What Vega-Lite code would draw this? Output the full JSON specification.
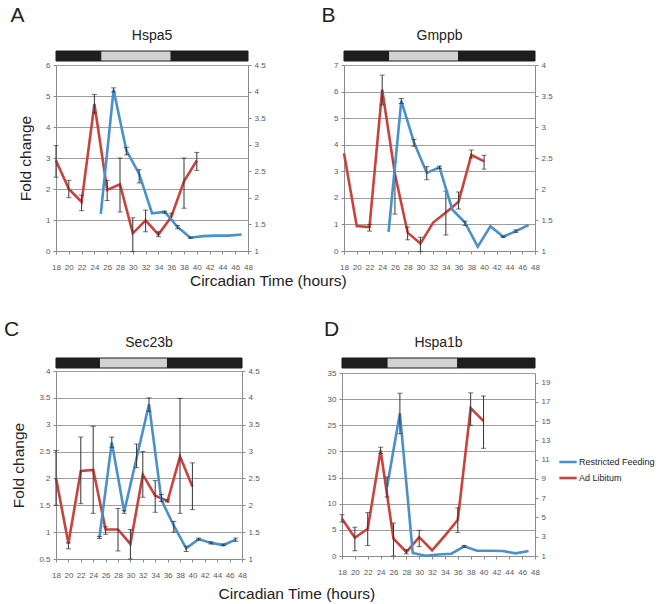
{
"$schema":"https://vega.github.io/schema/vega-lite/v6.json",
"padding":{"left":3,"top":4,"right":0,"bottom":0},
"background":"white",
"datasets":{
"bars":[{"a":18,"b":25,"p":"d"},{"a":25,"b":36,"p":"l"},{"a":36,"b":48,"p":"d"}],
"A":[
{"s":"Ad Libitum","h":18,"v":2.92,"lo":2.38,"hi":3.4},
{"s":"Ad Libitum","h":20,"v":2.0,"lo":1.72,"hi":2.28},
{"s":"Ad Libitum","h":22,"v":1.58,"lo":1.3,"hi":1.8},
{"s":"Ad Libitum","h":24,"v":4.74,"lo":4.45,"hi":5.05},
{"s":"Ad Libitum","h":26,"v":1.97,"lo":1.63,"hi":2.28},
{"s":"Ad Libitum","h":28,"v":2.15,"lo":1.26,"hi":3.0},
{"s":"Ad Libitum","h":30,"v":0.57,"lo":-0.02,"hi":1.07},
{"s":"Ad Libitum","h":32,"v":0.99,"lo":0.62,"hi":1.32},
{"s":"Ad Libitum","h":34,"v":0.53,"lo":0.46,"hi":0.62},
{"s":"Ad Libitum","h":36,"v":1.1,"lo":1.0,"hi":1.22},
{"s":"Ad Libitum","h":38,"v":2.25,"lo":1.38,"hi":3.0},
{"s":"Ad Libitum","h":40,"v":2.92,"lo":2.6,"hi":3.18},
{"s":"Restricted Feeding","h":25,"v":1.7,"lo":null,"hi":null},
{"s":"Restricted Feeding","h":27,"v":4.03,"lo":3.99,"hi":4.07},
{"s":"Restricted Feeding","h":29,"v":2.89,"lo":2.81,"hi":2.95},
{"s":"Restricted Feeding","h":31,"v":2.45,"lo":2.28,"hi":2.53},
{"s":"Restricted Feeding","h":33,"v":1.71,"lo":null,"hi":null},
{"s":"Restricted Feeding","h":35,"v":1.735,"lo":1.71,"hi":1.75},
{"s":"Restricted Feeding","h":37,"v":1.45,"lo":1.42,"hi":1.48},
{"s":"Restricted Feeding","h":39,"v":1.25,"lo":1.24,"hi":1.26},
{"s":"Restricted Feeding","h":41,"v":1.28,"lo":null,"hi":null},
{"s":"Restricted Feeding","h":43,"v":1.29,"lo":null,"hi":null},
{"s":"Restricted Feeding","h":45,"v":1.29,"lo":null,"hi":null},
{"s":"Restricted Feeding","h":47,"v":1.31,"lo":null,"hi":null}],
"B":[
{"s":"Ad Libitum","h":18,"v":3.68,"lo":null,"hi":null},
{"s":"Ad Libitum","h":20,"v":0.94,"lo":null,"hi":null},
{"s":"Ad Libitum","h":22,"v":0.9,"lo":0.75,"hi":1.0},
{"s":"Ad Libitum","h":24,"v":6.07,"lo":5.5,"hi":6.62},
{"s":"Ad Libitum","h":26,"v":2.9,"lo":1.39,"hi":3.35},
{"s":"Ad Libitum","h":28,"v":0.69,"lo":0.42,"hi":0.9},
{"s":"Ad Libitum","h":30,"v":0.28,"lo":-0.02,"hi":0.52},
{"s":"Ad Libitum","h":32,"v":1.07,"lo":null,"hi":null},
{"s":"Ad Libitum","h":34,"v":1.45,"lo":0.6,"hi":2.25},
{"s":"Ad Libitum","h":36,"v":1.85,"lo":1.58,"hi":2.22},
{"s":"Ad Libitum","h":38,"v":3.62,"lo":3.5,"hi":3.8},
{"s":"Ad Libitum","h":40,"v":3.37,"lo":3.08,"hi":3.6},
{"s":"Restricted Feeding","h":25,"v":1.31,"lo":null,"hi":null},
{"s":"Restricted Feeding","h":27,"v":3.42,"lo":3.38,"hi":3.46},
{"s":"Restricted Feeding","h":29,"v":2.75,"lo":2.69,"hi":2.8},
{"s":"Restricted Feeding","h":31,"v":2.26,"lo":2.15,"hi":2.36},
{"s":"Restricted Feeding","h":33,"v":2.35,"lo":2.33,"hi":2.37},
{"s":"Restricted Feeding","h":35,"v":1.67,"lo":null,"hi":null},
{"s":"Restricted Feeding","h":37,"v":1.46,"lo":1.41,"hi":1.48},
{"s":"Restricted Feeding","h":39,"v":1.07,"lo":null,"hi":null},
{"s":"Restricted Feeding","h":41,"v":1.4,"lo":null,"hi":null},
{"s":"Restricted Feeding","h":43,"v":1.23,"lo":1.22,"hi":1.24},
{"s":"Restricted Feeding","h":45,"v":1.32,"lo":1.3,"hi":1.34},
{"s":"Restricted Feeding","h":47,"v":1.42,"lo":null,"hi":null}],
"C":[
{"s":"Ad Libitum","h":18,"v":2.01,"lo":1.5,"hi":2.52},
{"s":"Ad Libitum","h":20,"v":0.79,"lo":0.69,"hi":0.8},
{"s":"Ad Libitum","h":22,"v":2.14,"lo":1.53,"hi":2.77},
{"s":"Ad Libitum","h":24,"v":2.16,"lo":1.35,"hi":2.97},
{"s":"Ad Libitum","h":26,"v":1.05,"lo":0.96,"hi":1.1},
{"s":"Ad Libitum","h":28,"v":1.05,"lo":0.65,"hi":1.44},
{"s":"Ad Libitum","h":30,"v":0.78,"lo":0.5,"hi":1.05},
{"s":"Ad Libitum","h":32,"v":2.07,"lo":1.65,"hi":2.5},
{"s":"Ad Libitum","h":34,"v":1.68,"lo":1.37,"hi":1.96},
{"s":"Ad Libitum","h":36,"v":1.58,"lo":1.56,"hi":1.6},
{"s":"Ad Libitum","h":38,"v":2.41,"lo":1.35,"hi":3.49},
{"s":"Ad Libitum","h":40,"v":1.85,"lo":1.42,"hi":2.29},
{"s":"Restricted Feeding","h":25,"v":1.4,"lo":1.38,"hi":1.42},
{"s":"Restricted Feeding","h":27,"v":3.17,"lo":3.08,"hi":3.27},
{"s":"Restricted Feeding","h":29,"v":1.88,"lo":1.85,"hi":1.9},
{"s":"Restricted Feeding","h":31,"v":2.88,"lo":2.7,"hi":3.14},
{"s":"Restricted Feeding","h":33,"v":3.88,"lo":3.75,"hi":4.0},
{"s":"Restricted Feeding","h":35,"v":2.1,"lo":2.07,"hi":2.2},
{"s":"Restricted Feeding","h":37,"v":1.62,"lo":1.5,"hi":1.7},
{"s":"Restricted Feeding","h":39,"v":1.2,"lo":1.14,"hi":1.24},
{"s":"Restricted Feeding","h":41,"v":1.37,"lo":1.35,"hi":1.39},
{"s":"Restricted Feeding","h":43,"v":1.3,"lo":1.28,"hi":1.32},
{"s":"Restricted Feeding","h":45,"v":1.26,"lo":1.25,"hi":1.28},
{"s":"Restricted Feeding","h":47,"v":1.36,"lo":1.33,"hi":1.39}],
"D":[
{"s":"Ad Libitum","h":18,"v":7.13,"lo":6.5,"hi":7.9},
{"s":"Ad Libitum","h":20,"v":3.5,"lo":1.0,"hi":5.5},
{"s":"Ad Libitum","h":22,"v":5.2,"lo":2.0,"hi":8.3},
{"s":"Ad Libitum","h":24,"v":20.2,"lo":19.6,"hi":20.8},
{"s":"Ad Libitum","h":26,"v":3.3,"lo":0.0,"hi":6.3},
{"s":"Ad Libitum","h":28,"v":0.76,"lo":0.4,"hi":1.2},
{"s":"Ad Libitum","h":30,"v":3.6,"lo":1.8,"hi":4.9},
{"s":"Ad Libitum","h":32,"v":1.1,"lo":null,"hi":null},
{"s":"Ad Libitum","h":34,"v":3.9,"lo":null,"hi":null},
{"s":"Ad Libitum","h":36,"v":6.94,"lo":4.5,"hi":9.2},
{"s":"Ad Libitum","h":38,"v":28.3,"lo":25.0,"hi":31.2},
{"s":"Ad Libitum","h":40,"v":25.8,"lo":20.6,"hi":30.6},
{"s":"Restricted Feeding","h":25,"v":8.17,"lo":7.13,"hi":9.2},
{"s":"Restricted Feeding","h":27,"v":15.82,"lo":13.7,"hi":17.9},
{"s":"Restricted Feeding","h":29,"v":1.31,"lo":null,"hi":null},
{"s":"Restricted Feeding","h":31,"v":1.03,"lo":null,"hi":null},
{"s":"Restricted Feeding","h":33,"v":1.16,"lo":null,"hi":null},
{"s":"Restricted Feeding","h":35,"v":1.24,"lo":null,"hi":null},
{"s":"Restricted Feeding","h":37,"v":2.0,"lo":1.9,"hi":2.1},
{"s":"Restricted Feeding","h":39,"v":1.54,"lo":null,"hi":null},
{"s":"Restricted Feeding","h":41,"v":1.54,"lo":null,"hi":null},
{"s":"Restricted Feeding","h":43,"v":1.52,"lo":null,"hi":null},
{"s":"Restricted Feeding","h":45,"v":1.27,"lo":null,"hi":null},
{"s":"Restricted Feeding","h":47,"v":1.52,"lo":null,"hi":null}]
},
"vconcat":[
{"hconcat":[
 {"title":{"text":"A","anchor":"start","fontSize":21,"offset":3,"dx":-8},
  "bounds":"flush","spacing":4,
  "vconcat":[
   {"title":{"text":"Hspa5","fontSize":14,"offset":8},"width":192,"height":10,"data":{"name":"bars"},
    "mark":{"type":"rect","stroke":"#1a1a1a","strokeWidth":1},
    "encoding":{"x":{"field":"a","type":"quantitative","scale":{"domain":[18,48],"nice":false,"zero":false},"axis":null},"x2":{"field":"b"},
     "fill":{"field":"p","type":"nominal","scale":{"domain":["d","l"],"range":["#1e1e1e","#d2d2d2"]},"legend":null}}},
   {"width":192,"height":186,"data":{"name":"A"},
    "layer":[
     {"transform":[{"filter":"datum.s==='Ad Libitum'"}],
      "layer":[
       {"mark":{"type":"line","color":"#C9433E","strokeWidth":2.6},
        "encoding":{"x":{"field":"h","type":"quantitative","scale":{"domain":[18,48],"nice":false,"zero":false},"axis":{"values":[18,20,22,24,26,28,30,32,34,36,38,40,42,44,46,48],"tickCount":100,"format":"~g","grid":false,"title":null,"labelPadding":9,"labelFlush":false,"labelOverlap":false}},
         "y":{"field":"v","type":"quantitative","scale":{"domain":[0,6],"nice":false,"zero":false},"axis":{"orient":"left","values":[0,1,2,3,4,5,6],"tickCount":100,"format":"~g","grid":true,"title":"Fold change","titlePadding":12,"labelFlush":false,"labelOverlap":false}}}},
       {"transform":[{"filter":"datum.lo!=null"}],"mark":{"type":"rule","color":"#333","strokeWidth":1},"encoding":{"x":{"field":"h","type":"quantitative"},"y":{"field":"lo","type":"quantitative"},"y2":{"field":"hi"}}},
       {"transform":[{"filter":"datum.lo!=null"}],"mark":{"type":"tick","orient":"horizontal","size":5,"thickness":1,"color":"#333"},"encoding":{"x":{"field":"h","type":"quantitative"},"y":{"field":"lo","type":"quantitative"}}},
       {"transform":[{"filter":"datum.lo!=null"}],"mark":{"type":"tick","orient":"horizontal","size":5,"thickness":1,"color":"#333"},"encoding":{"x":{"field":"h","type":"quantitative"},"y":{"field":"hi","type":"quantitative"}}}
      ]},
     {"transform":[{"filter":"datum.s==='Restricted Feeding'"}],
      "layer":[
       {"mark":{"type":"line","color":"#4A90CB","strokeWidth":2.6},
        "encoding":{"x":{"field":"h","type":"quantitative"},
         "y":{"field":"v","type":"quantitative","scale":{"domain":[1,4.5],"nice":false,"zero":false},"axis":{"orient":"right","values":[1,1.5,2,2.5,3,3.5,4,4.5],"tickCount":100,"format":"~g","grid":false,"title":null,"labelFlush":false,"labelOverlap":false}}}},
       {"transform":[{"filter":"datum.lo!=null"}],"mark":{"type":"rule","color":"#333","strokeWidth":1},"encoding":{"x":{"field":"h","type":"quantitative"},"y":{"field":"lo","type":"quantitative"},"y2":{"field":"hi"}}},
       {"transform":[{"filter":"datum.lo!=null"}],"mark":{"type":"tick","orient":"horizontal","size":5,"thickness":1,"color":"#333"},"encoding":{"x":{"field":"h","type":"quantitative"},"y":{"field":"lo","type":"quantitative"}}},
       {"transform":[{"filter":"datum.lo!=null"}],"mark":{"type":"tick","orient":"horizontal","size":5,"thickness":1,"color":"#333"},"encoding":{"x":{"field":"h","type":"quantitative"},"y":{"field":"hi","type":"quantitative"}}}
      ]}
    ],
    "resolve":{"scale":{"y":"independent"}}}
  ]},
 {"title":{"text":"B","anchor":"start","fontSize":21,"offset":3,"dx":-12},
  "bounds":"flush","spacing":4,
  "vconcat":[
   {"title":{"text":"Gmppb","fontSize":14,"offset":8},"width":191,"height":10,"data":{"name":"bars"},
    "mark":{"type":"rect","stroke":"#1a1a1a","strokeWidth":1},
    "encoding":{"x":{"field":"a","type":"quantitative","scale":{"domain":[18,48],"nice":false,"zero":false},"axis":null},"x2":{"field":"b"},
     "fill":{"field":"p","type":"nominal","scale":{"domain":["d","l"],"range":["#1e1e1e","#d2d2d2"]},"legend":null}}},
   {"width":191,"height":186,"data":{"name":"B"},
    "layer":[
     {"transform":[{"filter":"datum.s==='Ad Libitum'"}],
      "layer":[
       {"mark":{"type":"line","color":"#C9433E","strokeWidth":2.6},
        "encoding":{"x":{"field":"h","type":"quantitative","scale":{"domain":[18,48],"nice":false,"zero":false},"axis":{"values":[18,20,22,24,26,28,30,32,34,36,38,40,42,44,46,48],"tickCount":100,"format":"~g","grid":false,"title":null,"labelPadding":9,"labelFlush":false,"labelOverlap":false}},
         "y":{"field":"v","type":"quantitative","scale":{"domain":[0,7],"nice":false,"zero":false},"axis":{"orient":"left","values":[0,1,2,3,4,5,6,7],"tickCount":100,"format":"~g","grid":true,"title":null,"labelFlush":false,"labelOverlap":false}}}},
       {"transform":[{"filter":"datum.lo!=null"}],"mark":{"type":"rule","color":"#333","strokeWidth":1},"encoding":{"x":{"field":"h","type":"quantitative"},"y":{"field":"lo","type":"quantitative"},"y2":{"field":"hi"}}},
       {"transform":[{"filter":"datum.lo!=null"}],"mark":{"type":"tick","orient":"horizontal","size":5,"thickness":1,"color":"#333"},"encoding":{"x":{"field":"h","type":"quantitative"},"y":{"field":"lo","type":"quantitative"}}},
       {"transform":[{"filter":"datum.lo!=null"}],"mark":{"type":"tick","orient":"horizontal","size":5,"thickness":1,"color":"#333"},"encoding":{"x":{"field":"h","type":"quantitative"},"y":{"field":"hi","type":"quantitative"}}}
      ]},
     {"transform":[{"filter":"datum.s==='Restricted Feeding'"}],
      "layer":[
       {"mark":{"type":"line","color":"#4A90CB","strokeWidth":2.6},
        "encoding":{"x":{"field":"h","type":"quantitative"},
         "y":{"field":"v","type":"quantitative","scale":{"domain":[1,4],"nice":false,"zero":false},"axis":{"orient":"right","values":[1,1.5,2,2.5,3,3.5,4],"tickCount":100,"format":"~g","grid":false,"title":null,"labelFlush":false,"labelOverlap":false}}}},
       {"transform":[{"filter":"datum.lo!=null"}],"mark":{"type":"rule","color":"#333","strokeWidth":1},"encoding":{"x":{"field":"h","type":"quantitative"},"y":{"field":"lo","type":"quantitative"},"y2":{"field":"hi"}}},
       {"transform":[{"filter":"datum.lo!=null"}],"mark":{"type":"tick","orient":"horizontal","size":5,"thickness":1,"color":"#333"},"encoding":{"x":{"field":"h","type":"quantitative"},"y":{"field":"lo","type":"quantitative"}}},
       {"transform":[{"filter":"datum.lo!=null"}],"mark":{"type":"tick","orient":"horizontal","size":5,"thickness":1,"color":"#333"},"encoding":{"x":{"field":"h","type":"quantitative"},"y":{"field":"hi","type":"quantitative"}}}
      ]}
    ],
    "resolve":{"scale":{"y":"independent"}}}
  ]}
 ],
 "spacing":55,
 "title":{"text":"Circadian Time (hours)","orient":"bottom","anchor":"middle","fontSize":15.5,"offset":3,"dx":-13}
},
{"hconcat":[
 {"title":{"text":"C","anchor":"start","fontSize":21,"offset":-4,"dx":-8},
  "bounds":"flush","spacing":3,
  "vconcat":[
   {"title":{"text":"Sec23b","fontSize":14,"offset":8},"width":186,"height":10,"data":{"name":"bars"},
    "mark":{"type":"rect","stroke":"#1a1a1a","strokeWidth":1},
    "encoding":{"x":{"field":"a","type":"quantitative","scale":{"domain":[18,48],"nice":false,"zero":false},"axis":null},"x2":{"field":"b"},
     "fill":{"field":"p","type":"nominal","scale":{"domain":["d","l"],"range":["#1e1e1e","#d2d2d2"]},"legend":null}}},
   {"width":186,"height":188,"data":{"name":"C"},
    "layer":[
     {"transform":[{"filter":"datum.s==='Ad Libitum'"}],
      "layer":[
       {"mark":{"type":"line","color":"#C9433E","strokeWidth":2.6},
        "encoding":{"x":{"field":"h","type":"quantitative","scale":{"domain":[18,48],"nice":false,"zero":false},"axis":{"values":[18,20,22,24,26,28,30,32,34,36,38,40,42,44,46,48],"tickCount":100,"format":"~g","grid":false,"title":null,"labelPadding":9,"labelFlush":false,"labelOverlap":false}},
         "y":{"field":"v","type":"quantitative","scale":{"domain":[0.5,4],"nice":false,"zero":false},"axis":{"orient":"left","values":[0.5,1,1.5,2,2.5,3,3.5,4],"tickCount":100,"format":"~g","grid":true,"title":"Fold change","titlePadding":12,"labelFlush":false,"labelOverlap":false}}}},
       {"transform":[{"filter":"datum.lo!=null"}],"mark":{"type":"rule","color":"#333","strokeWidth":1},"encoding":{"x":{"field":"h","type":"quantitative"},"y":{"field":"lo","type":"quantitative"},"y2":{"field":"hi"}}},
       {"transform":[{"filter":"datum.lo!=null"}],"mark":{"type":"tick","orient":"horizontal","size":5,"thickness":1,"color":"#333"},"encoding":{"x":{"field":"h","type":"quantitative"},"y":{"field":"lo","type":"quantitative"}}},
       {"transform":[{"filter":"datum.lo!=null"}],"mark":{"type":"tick","orient":"horizontal","size":5,"thickness":1,"color":"#333"},"encoding":{"x":{"field":"h","type":"quantitative"},"y":{"field":"hi","type":"quantitative"}}}
      ]},
     {"transform":[{"filter":"datum.s==='Restricted Feeding'"}],
      "layer":[
       {"mark":{"type":"line","color":"#4A90CB","strokeWidth":2.6},
        "encoding":{"x":{"field":"h","type":"quantitative"},
         "y":{"field":"v","type":"quantitative","scale":{"domain":[1,4.5],"nice":false,"zero":false},"axis":{"orient":"right","values":[1,1.5,2,2.5,3,3.5,4,4.5],"tickCount":100,"format":"~g","grid":false,"title":null,"labelFlush":false,"labelOverlap":false}}}},
       {"transform":[{"filter":"datum.lo!=null"}],"mark":{"type":"rule","color":"#333","strokeWidth":1},"encoding":{"x":{"field":"h","type":"quantitative"},"y":{"field":"lo","type":"quantitative"},"y2":{"field":"hi"}}},
       {"transform":[{"filter":"datum.lo!=null"}],"mark":{"type":"tick","orient":"horizontal","size":5,"thickness":1,"color":"#333"},"encoding":{"x":{"field":"h","type":"quantitative"},"y":{"field":"lo","type":"quantitative"}}},
       {"transform":[{"filter":"datum.lo!=null"}],"mark":{"type":"tick","orient":"horizontal","size":5,"thickness":1,"color":"#333"},"encoding":{"x":{"field":"h","type":"quantitative"},"y":{"field":"hi","type":"quantitative"}}}
      ]}
    ],
    "resolve":{"scale":{"y":"independent"}}}
  ]},
 {"title":{"text":"D","anchor":"start","fontSize":21,"offset":-4,"dx":-3},
  "bounds":"flush","spacing":5,
  "vconcat":[
   {"title":{"text":"Hspa1b","fontSize":14,"offset":8},"width":193,"height":10,"data":{"name":"bars"},
    "mark":{"type":"rect","stroke":"#1a1a1a","strokeWidth":1},
    "encoding":{"x":{"field":"a","type":"quantitative","scale":{"domain":[18,48],"nice":false,"zero":false},"axis":null},"x2":{"field":"b"},
     "fill":{"field":"p","type":"nominal","scale":{"domain":["d","l"],"range":["#1e1e1e","#d2d2d2"]},"legend":null}}},
   {"width":193,"height":183,"data":{"name":"D"},
    "layer":[
     {"transform":[{"filter":"datum.s==='Ad Libitum'"}],
      "layer":[
       {"mark":{"type":"line","strokeWidth":2.6},
        "encoding":{"x":{"field":"h","type":"quantitative","scale":{"domain":[18,48],"nice":false,"zero":false},"axis":{"values":[18,20,22,24,26,28,30,32,34,36,38,40,42,44,46,48],"tickCount":100,"format":"~g","grid":false,"title":null,"labelPadding":9,"labelFlush":false,"labelOverlap":false}},
         "y":{"field":"v","type":"quantitative","scale":{"domain":[0,35],"nice":false,"zero":false},"axis":{"orient":"left","values":[0,5,10,15,20,25,30,35],"tickCount":100,"format":"~g","grid":true,"title":null,"labelFlush":false,"labelOverlap":false}},
         "color":{"field":"s","type":"nominal","scale":{"domain":["Restricted Feeding","Ad Libitum"],"range":["#4A90CB","#C9433E"]},"legend":{"title":null,"orient":"none","legendX":502,"legendY":401,"symbolType":"stroke","symbolStrokeWidth":2.6,"symbolSize":300,"labelFontSize":9,"labelColor":"#222","labelFont":"Liberation Sans","rowPadding":0,"labelOffset":1}}}},
       {"transform":[{"filter":"datum.lo!=null"}],"mark":{"type":"rule","color":"#333","strokeWidth":1},"encoding":{"x":{"field":"h","type":"quantitative"},"y":{"field":"lo","type":"quantitative"},"y2":{"field":"hi"}}},
       {"transform":[{"filter":"datum.lo!=null"}],"mark":{"type":"tick","orient":"horizontal","size":5,"thickness":1,"color":"#333"},"encoding":{"x":{"field":"h","type":"quantitative"},"y":{"field":"lo","type":"quantitative"}}},
       {"transform":[{"filter":"datum.lo!=null"}],"mark":{"type":"tick","orient":"horizontal","size":5,"thickness":1,"color":"#333"},"encoding":{"x":{"field":"h","type":"quantitative"},"y":{"field":"hi","type":"quantitative"}}}
      ]},
     {"transform":[{"filter":"datum.s==='Restricted Feeding'"}],
      "layer":[
       {"mark":{"type":"line","strokeWidth":2.6},
        "encoding":{"x":{"field":"h","type":"quantitative"},
         "y":{"field":"v","type":"quantitative","scale":{"domain":[1,20],"nice":false,"zero":false},"axis":{"orient":"right","values":[1,3,5,7,9,11,13,15,17,19],"tickCount":100,"format":"~g","grid":false,"title":null,"labelFlush":false,"labelOverlap":false}},
         "color":{"field":"s","type":"nominal"}}},
       {"transform":[{"filter":"datum.lo!=null"}],"mark":{"type":"rule","color":"#333","strokeWidth":1},"encoding":{"x":{"field":"h","type":"quantitative"},"y":{"field":"lo","type":"quantitative"},"y2":{"field":"hi"}}},
       {"transform":[{"filter":"datum.lo!=null"}],"mark":{"type":"tick","orient":"horizontal","size":5,"thickness":1,"color":"#333"},"encoding":{"x":{"field":"h","type":"quantitative"},"y":{"field":"lo","type":"quantitative"}}},
       {"transform":[{"filter":"datum.lo!=null"}],"mark":{"type":"tick","orient":"horizontal","size":5,"thickness":1,"color":"#333"},"encoding":{"x":{"field":"h","type":"quantitative"},"y":{"field":"hi","type":"quantitative"}}}
      ]}
    ],
    "resolve":{"scale":{"y":"independent"}}}
  ]}
 ],
 "spacing":64,
 "title":{"text":"Circadian Time (hours)","orient":"bottom","anchor":"middle","fontSize":15.5,"offset":8,"dx":20}
}
],
"spacing":28,
"config":{
 "view":{"stroke":null},
 "font":"Liberation Sans",
 "axis":{"labelFont":"Liberation Sans","labelFontSize":8,"labelColor":"#595959","domainColor":"#8c8c8c","tickColor":"#8c8c8c","tickSize":3,"gridColor":"#9d9d9d","gridWidth":1.2,"titleFont":"Liberation Sans","titleFontWeight":"normal","titleFontSize":15.5,"titleColor":"#222","labelPadding":3},
 "title":{"font":"Liberation Sans","fontWeight":"normal","color":"#222"}
}
}
